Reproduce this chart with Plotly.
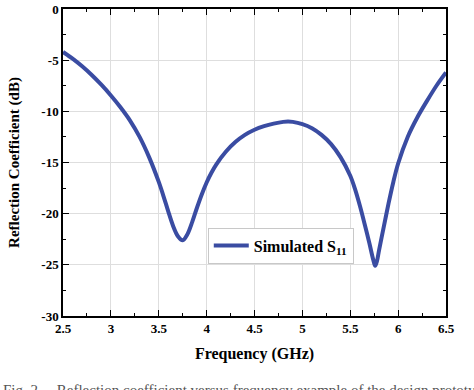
import plotly.graph_objects as go

freq_ghz = [2.5, 2.6, 2.7, 2.8, 2.9, 3.0, 3.1, 3.2, 3.3, 3.4, 3.5, 3.55, 3.6, 3.65, 3.7,
            3.75, 3.8, 3.85, 3.9, 3.95, 4.0, 4.05, 4.1, 4.2, 4.3, 4.4, 4.5, 4.6, 4.7, 4.8, 4.85,
            4.9, 5.0, 5.1, 5.2, 5.3, 5.4, 5.5, 5.55, 5.6, 5.65, 5.7, 5.74, 5.76, 5.78, 5.8,
            5.85, 5.9, 5.95, 6.0, 6.1, 6.2, 6.3, 6.4, 6.5]
s11_db = [-4.2, -4.85, -5.6, -6.45, -7.4, -8.45, -9.6, -10.9, -12.5, -14.5, -16.9, -18.3,
          -19.8, -21.2, -22.2, -22.6, -22.0, -20.8, -19.4, -18.1, -16.95, -16.0, -15.2, -13.95,
          -13.0, -12.3, -11.8, -11.45, -11.2, -11.03, -11.0, -11.03, -11.25, -11.65, -12.3,
          -13.2, -14.5, -16.3, -17.6, -19.2, -21.0, -22.9, -24.5, -25.1, -24.6, -23.6, -21.3,
          -19.0, -16.9, -15.1, -12.5, -10.6, -9.0, -7.5, -6.2]

x_ticks = [2.5, 3, 3.5, 4, 4.5, 5, 5.5, 6, 6.5]
x_tick_labels = ["2.5", "3", "3.5", "4", "4.5", "5", "5.5", "6", "6.5"]
y_ticks = [0, -5, -10, -15, -20, -25, -30]
y_tick_labels = ["0", "-5", "-10", "-15", "-20", "-25", "-30"]

series_name = "Simulated S<sub>11</sub>"
x_title = "Frequency (GHz)"
y_title = "Reflection Coefficient (dB)"
caption = "Fig. 2.    Reflection coefficient versus frequency example of the design prototype"

font_family = "Liberation Serif, Times New Roman, serif"
line_color = "#3a4ca2"

fig = go.Figure()
fig.add_trace(go.Scatter(
    x=freq_ghz, y=s11_db, mode="lines", name=series_name,
    line=dict(color=line_color, width=4, shape="spline", smoothing=0.9),
))

axis_common = dict(
    showline=True, linecolor="black", linewidth=1.5, mirror="ticks",
    ticks="inside", ticklen=6, tickwidth=1.3, tickcolor="black",
    showgrid=True, gridcolor="#dedede", gridwidth=1,
    zeroline=False, automargin=False,
    tickfont=dict(family=font_family, size=13, color="black", weight="bold"),
)

fig.update_xaxes(
    range=[2.5, 6.5], tickvals=x_ticks, ticktext=x_tick_labels,
    title=dict(text=x_title, font=dict(family=font_family, size=16, color="black", weight="bold"), standoff=12),
    minor=dict(dtick=0.25, ticks="inside", ticklen=3.5, tickcolor="black", tickwidth=1.3, showgrid=False),
    **axis_common,
)
fig.update_yaxes(
    range=[-30, 0], tickvals=y_ticks, ticktext=y_tick_labels,
    title=dict(text=y_title, font=dict(family=font_family, size=15, color="black", weight="bold"), standoff=18),
    minor=dict(dtick=2.5, ticks="inside", ticklen=3.5, tickcolor="black", tickwidth=1.3, showgrid=False),
    **axis_common,
)

fig.update_layout(
    width=474, height=390,
    margin=dict(l=63, r=28, t=9, b=74),
    paper_bgcolor="white", plot_bgcolor="white",
    showlegend=True,
    legend=dict(
        x=0.378, y=0.288, xanchor="left", yanchor="top",
        bgcolor="white", bordercolor="#c8c8c8", borderwidth=1,
        font=dict(family=font_family, size=16, color="black", weight="bold"),
        itemwidth=35, tracegroupgap=0,
    ),
    annotations=[dict(
        text=caption, xref="paper", yref="paper", x=-0.162, y=-0.21,
        xanchor="left", yanchor="top", showarrow=False,
        font=dict(family=font_family, size=15, color="#555"),
    )],
)

fig.write_html(
    "out.html",
    config={"displayModeBar": False},
    post_script="document.body.style.margin='0';document.body.style.overflow='hidden';",
)
